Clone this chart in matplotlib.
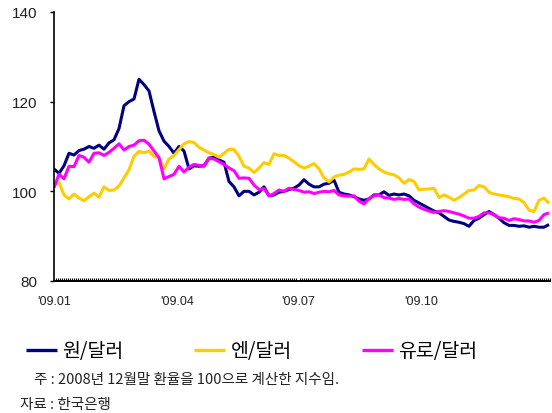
import numpy as np
import matplotlib
matplotlib.use('Agg')
import matplotlib.pyplot as plt
from matplotlib.ticker import MultipleLocator

# index 100 = end of Dec 2008; one point every ~2.5 trading days of 2009
won_usd = [
    105.0, 104.0, 105.7, 108.5, 108.1, 109.1, 109.4, 110.0, 109.6, 110.3,
    109.4, 110.8, 111.5, 114.0, 119.1, 120.0, 120.6, 125.0, 123.8, 122.4,
    117.8, 113.5, 111.2, 110.0, 108.5, 110.0, 109.0, 105.0, 105.7, 105.6,
    105.7, 107.4, 107.6, 107.0, 106.5, 102.2, 101.0, 99.0, 100.0, 100.0,
    99.2, 99.8, 101.0, 99.0, 99.2, 99.8, 100.0, 100.4, 100.7, 101.4,
    102.6, 101.6, 101.0, 101.0, 101.6, 101.8, 102.5, 99.8, 99.4, 99.2,
    98.8, 98.3, 98.0, 98.3, 99.2, 99.2, 99.9, 99.1, 99.4, 99.2,
    99.4, 99.0, 98.0, 97.4, 96.8, 96.2, 95.6, 95.2, 94.4, 93.6,
    93.3, 93.1, 92.8, 92.2, 93.5, 94.0, 94.8, 95.5, 94.8, 94.0,
    93.0, 92.4, 92.4, 92.2, 92.3, 92.0, 92.2, 92.0, 92.0, 92.6,
]
yen_usd = [
    101.5, 102.0, 99.2, 98.3, 99.4, 98.5, 97.9, 98.8, 99.6, 98.7,
    101.0, 100.2, 100.3, 101.2, 103.0, 104.8, 107.8, 108.9, 108.6, 109.0,
    107.8, 107.5, 105.0, 107.2, 108.0, 109.3, 110.6, 111.1, 110.9, 109.8,
    109.2, 108.6, 108.2, 107.6, 108.5, 109.4, 109.3, 107.8, 105.6, 105.2,
    104.2, 105.2, 106.4, 106.0, 108.4, 108.0, 108.0, 107.4, 106.6, 105.7,
    105.2, 105.6, 106.2, 105.0, 103.0, 102.1, 103.2, 103.6, 103.8, 104.3,
    105.0, 104.9, 105.0, 107.2, 106.0, 105.0, 104.3, 103.9, 103.7, 103.0,
    101.8, 102.6, 102.2, 100.3, 100.5, 100.5, 100.7, 98.6, 99.2, 98.7,
    98.0, 98.6, 99.4, 100.2, 100.3, 101.3, 101.0, 99.8, 99.4, 99.2,
    99.0, 98.8, 98.4, 98.3, 97.5, 95.8, 95.5, 98.0, 98.5, 97.3,
]
euro_usd = [
    100.8, 103.8, 102.8, 105.6, 105.5, 108.0, 107.6, 106.5, 108.5, 108.6,
    108.0, 108.7, 109.6, 110.6, 109.2, 110.0, 110.3, 111.3, 111.4, 110.5,
    109.0, 107.5, 102.8, 103.3, 103.8, 105.6, 104.3, 105.4, 106.0, 105.8,
    105.6, 107.4, 107.2, 106.6, 106.0, 105.2, 104.6, 102.9, 103.0, 102.9,
    101.4, 100.4, 100.6, 99.0, 99.5, 100.3, 100.0, 100.7, 100.4, 100.2,
    99.8, 99.9, 99.5, 99.8, 100.0, 99.9, 100.2, 99.2, 99.0, 98.9,
    99.0, 97.8, 97.2, 98.4, 99.0, 99.2, 98.6, 98.5, 98.2, 98.4,
    98.2, 98.3, 97.2, 96.5, 96.0, 95.6, 95.3, 95.5, 95.7, 95.5,
    95.2, 94.9, 94.5, 94.0, 94.0, 94.4, 95.2, 95.2, 94.8, 94.1,
    94.0, 93.5, 93.9, 93.7, 93.4, 93.4, 93.1, 93.5, 94.8, 95.2,
]

series_names = ['원/달러', '엔/달러', '유로/달러']
colors = ['#000080', '#FFCC00', '#FF00FF']

quarter_labels = ["'09.01", "'09.04", "'09.07", "'09.10"]
quarter_pos = [0, 24.6, 48.8, 73.4]

kr_font = ['Noto Sans CJK KR', 'DejaVu Sans']
num_font = ['Liberation Sans', 'DejaVu Sans']

fig = plt.figure(figsize=(5.52, 4.14), dpi=100)
ax = fig.add_axes([54 / 552, 1 - 282 / 414, 496 / 552, 269 / 414])

x = np.arange(len(won_usd))
for vals, name, c in zip([won_usd, yen_usd, euro_usd], series_names, colors):
    ax.plot(x, vals, color=c, linewidth=2.2, label=name,
            solid_joinstyle='round', solid_capstyle='butt')

ax.set_xlim(0, 99.2)
ax.set_ylim(80, 140)
ax.set_yticks([80, 100, 120, 140])
ax.set_xticks(quarter_pos)
ax.set_xticklabels(quarter_labels, family=num_font, fontsize=9, color='#222222')
ax.xaxis.set_minor_locator(MultipleLocator(0.4))
ax.tick_params(axis='x', which='major', length=0, pad=10)
ax.tick_params(axis='x', which='minor', direction='in', length=2.5,
               width=0.8, color='black')
ax.tick_params(axis='y', which='major', direction='out', length=3,
               width=1, pad=9)
for lab in ax.get_yticklabels():
    lab.set_family(num_font)
    lab.set_fontsize(11)
    lab.set_color('#222222')

for side in ['top', 'right']:
    ax.spines[side].set_visible(False)
ax.spines['left'].set_linewidth(1.2)
ax.spines['bottom'].set_linewidth(1.4)

leg = fig.legend(loc='center left', bbox_to_anchor=(26 / 552, 1 - 352 / 414),
                 ncol=3, frameon=False, handlelength=1.6, handletextpad=0.28,
                 columnspacing=3.6, borderpad=0, borderaxespad=0,
                 prop={'family': kr_font, 'size': 14})
for line in leg.get_lines():
    line.set_linewidth(2.4)

fig.text(34 / 552, 1 - 380 / 414, '주 : 2008년 12월말 환율을 100으로 계산한 지수임.',
         family=kr_font, fontsize=10.5, va='center', ha='left', color='#222222')
fig.text(20 / 552, 1 - 405 / 414, '자료 : 한국은행',
         family=kr_font, fontsize=10.5, va='center', ha='left', color='#222222')

fig.savefig('out.png', dpi=100)
